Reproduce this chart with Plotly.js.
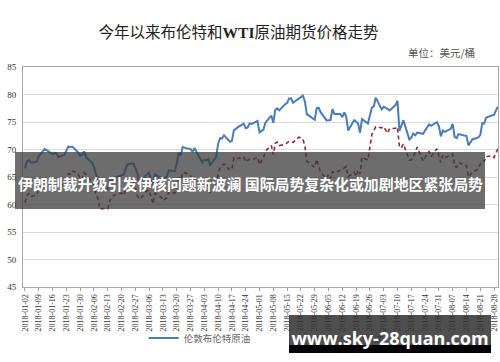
<!DOCTYPE html>
<html><head><meta charset="utf-8">
<script src="https://cdn.plot.ly/plotly-3.0.1.min.js"></script>
<style>
html,body{margin:0;padding:0;background:#fff;}
#wrap{position:relative;width:500px;height:362px;overflow:hidden;}
#chart{width:500px;height:362px;}
#wm{position:absolute;left:289px;top:315px;width:202px;height:38px;
background:linear-gradient(to bottom, rgba(50,50,50,0.86) 0px, rgba(50,50,50,0.86) 30px, #000 30px, #000 38px);}
#wm span{position:absolute;left:0;width:202px;top:14px;line-height:18px;text-align:center;
color:#fff;font-family:"Open Sans",sans-serif;font-weight:700;font-size:18px;white-space:nowrap;}
</style>
</head><body>
<div id="wrap"><div id="chart"></div><div id="wm"><span>www.sky-28quan.com</span></div></div>
<script>
const dates = [
'2018-01-02','2018-01-03','2018-01-04','2018-01-05','2018-01-08','2018-01-09','2018-01-10','2018-01-11','2018-01-12','2018-01-16','2018-01-17','2018-01-18','2018-01-19','2018-01-22','2018-01-23','2018-01-24','2018-01-25','2018-01-26','2018-01-29','2018-01-30','2018-01-31',
'2018-02-01','2018-02-02','2018-02-05','2018-02-06','2018-02-07','2018-02-08','2018-02-09','2018-02-12','2018-02-13','2018-02-14','2018-02-15','2018-02-16','2018-02-20','2018-02-21','2018-02-22','2018-02-23','2018-02-26','2018-02-27','2018-02-28',
'2018-03-01','2018-03-02','2018-03-05','2018-03-06','2018-03-07','2018-03-08','2018-03-09','2018-03-12','2018-03-13','2018-03-14','2018-03-15','2018-03-16','2018-03-19','2018-03-20','2018-03-21','2018-03-22','2018-03-23','2018-03-26','2018-03-27','2018-03-28','2018-03-29',
'2018-04-02','2018-04-03','2018-04-04','2018-04-05','2018-04-06','2018-04-09','2018-04-10','2018-04-11','2018-04-12','2018-04-13','2018-04-16','2018-04-17','2018-04-18','2018-04-19','2018-04-20','2018-04-23','2018-04-24','2018-04-25','2018-04-26','2018-04-27','2018-04-30',
'2018-05-01','2018-05-02','2018-05-03','2018-05-04','2018-05-07','2018-05-08','2018-05-09','2018-05-10','2018-05-11','2018-05-14','2018-05-15','2018-05-16','2018-05-17','2018-05-18','2018-05-21','2018-05-22','2018-05-23','2018-05-24','2018-05-25','2018-05-29','2018-05-30','2018-05-31',
'2018-06-01','2018-06-04','2018-06-05','2018-06-06','2018-06-07','2018-06-08','2018-06-11','2018-06-12','2018-06-13','2018-06-14','2018-06-15','2018-06-18','2018-06-19','2018-06-20','2018-06-21','2018-06-22','2018-06-25','2018-06-26','2018-06-27','2018-06-28','2018-06-29',
'2018-07-02','2018-07-03','2018-07-05','2018-07-06','2018-07-09','2018-07-10','2018-07-11','2018-07-12','2018-07-13','2018-07-16','2018-07-17','2018-07-18','2018-07-19','2018-07-20','2018-07-23','2018-07-24','2018-07-25','2018-07-26','2018-07-27','2018-07-30','2018-07-31',
'2018-08-01','2018-08-02','2018-08-03','2018-08-06','2018-08-07','2018-08-08','2018-08-09','2018-08-10','2018-08-13','2018-08-14','2018-08-15','2018-08-16','2018-08-17','2018-08-20','2018-08-21','2018-08-22','2018-08-23','2018-08-24','2018-08-27','2018-08-28','2018-08-29','2018-08-30'
];
const brent = [
66.57,67.84,68.07,67.62,67.78,68.82,69.20,69.60,70.10,69.15,69.38,69.31,68.61,69.03,69.96,70.53,70.42,70.52,69.46,68.89,69.05,
69.65,68.58,67.62,66.86,65.51,64.81,62.79,62.59,62.72,64.36,64.33,64.84,65.25,65.42,66.39,67.31,67.50,66.63,65.78,
63.83,64.37,65.54,65.79,64.34,63.61,65.49,64.95,64.64,64.89,65.12,66.21,66.05,67.42,69.47,68.91,70.45,70.12,70.11,69.53,70.27,
67.64,68.12,68.02,68.33,67.11,68.65,71.04,72.06,72.02,72.58,71.42,71.58,73.48,73.78,74.06,74.71,73.86,74.00,74.74,74.64,75.17,
73.13,73.36,73.62,74.87,76.17,74.85,77.21,77.47,77.12,78.23,78.43,79.28,79.30,78.51,79.22,79.57,79.80,78.79,76.44,75.39,77.50,77.59,
76.79,75.29,75.38,75.36,77.32,76.46,76.46,75.88,76.74,75.94,73.44,75.34,75.08,74.74,73.05,75.55,74.73,76.31,77.62,77.85,79.44,
77.30,77.76,77.39,77.11,78.07,78.86,73.40,74.45,75.33,71.84,72.16,72.90,72.58,73.07,72.86,73.44,73.93,74.54,74.29,74.97,74.25,
72.39,73.45,73.21,73.75,74.65,72.28,72.07,72.81,72.61,72.46,70.76,71.43,71.83,72.21,72.63,74.78,74.73,75.82,76.21,76.31,77.14,77.77
];
const wti = [
60.37,61.63,62.01,61.44,61.73,62.96,63.57,63.80,64.30,63.73,63.97,63.95,63.37,63.57,64.47,65.61,65.51,66.14,65.56,64.50,64.73,
65.80,65.45,64.15,63.39,61.79,61.15,59.20,59.29,59.19,60.60,61.34,61.68,62.10,61.68,62.77,63.55,63.91,63.01,61.64,
60.99,61.25,62.57,62.60,61.15,60.12,62.04,61.36,60.71,60.96,61.19,62.34,62.06,63.40,65.17,64.30,65.88,65.55,65.25,64.38,64.94,
63.01,63.51,63.37,63.54,62.06,63.42,65.51,66.82,67.07,67.39,66.22,66.52,68.47,68.29,68.38,68.64,67.70,68.05,68.19,68.10,68.57,
67.25,67.93,68.43,69.72,70.73,69.06,71.14,71.36,70.70,70.96,71.31,71.49,71.49,71.28,72.24,72.13,71.84,70.71,67.88,66.73,68.21,67.04,
65.81,64.75,65.52,64.73,65.95,65.74,66.10,66.36,66.64,66.89,65.06,65.85,65.07,66.22,65.54,68.58,68.08,70.53,72.76,73.45,74.15,
73.94,74.14,72.94,73.80,73.85,74.11,70.38,70.33,71.01,68.06,68.08,68.76,69.46,70.46,67.89,68.52,69.30,69.61,68.69,70.13,68.76,
67.66,68.96,68.49,69.01,69.17,66.94,66.81,67.63,67.20,67.04,65.01,65.46,65.91,66.43,67.35,67.86,67.83,68.72,68.87,68.53,69.51,70.25
];
const tickLabels = ['2018-01-02','2018-01-09','2018-01-16','2018-01-23','2018-01-30','2018-02-06','2018-02-13','2018-02-20','2018-02-27',
'2018-03-06','2018-03-13','2018-03-20','2018-03-27','2018-04-03','2018-04-10','2018-04-17','2018-04-24','2018-05-01','2018-05-08',
'2018-05-15','2018-05-22','2018-05-29','2018-06-05','2018-06-12','2018-06-19','2018-06-26','2018-07-03','2018-07-10','2018-07-17',
'2018-07-24','2018-07-31','2018-08-07','2018-08-14','2018-08-21','2018-08-28'];
const seriesNames = ['伦敦布伦特原油','WTI原油'];
const titleText = '今年以来布伦特和<b>WTI</b>原油期货价格走势';
const unitText = '单位：美元/桶';
const bannerText = '伊朗制裁升级引发伊核问题新波澜 国际局势复杂化或加剧地区紧张局势';

const cjk = 'Noto Sans CJK SC';
const traces = [
 {x: dates, y: brent, type:'scatter', mode:'lines', name: seriesNames[0],
  line:{color:'#4a7cb8', width:2}},
 {x: dates, y: wti, type:'scatter', mode:'lines', name: seriesNames[1],
  line:{color:'#8e2b36', width:1.6, dash:'4px,3px'}}
];
const layout = {
 width:500, height:362,
 margin:{l:23, r:2, t:67, b:75, pad:0},
 paper_bgcolor:'#fff', plot_bgcolor:'#fff',
 showlegend:true,
 title:{text:titleText, x:0.477, xref:'container', xanchor:'center', y:0.909, yref:'container', yanchor:'middle',
   font:{family:'"Liberation Serif", "'+cjk+'"', size:15.5, color:'#222'}},
 xaxis:{type:'date', range:['2018-01-01','2018-08-30'], tickmode:'array', tickvals:tickLabels, ticktext:tickLabels,
   tickangle:-90, tickfont:{family:'"Liberation Serif", serif', size:8, color:'#333'},
   ticks:'outside', ticklen:3, tickcolor:'#a0a0a0', showgrid:false, showline:true, linecolor:'#a8a8a8', linewidth:1,
   mirror:true, zeroline:false, fixedrange:true},
 yaxis:{range:[45,85], dtick:5, tick0:45, tickfont:{family:'"Liberation Serif", serif', size:9, color:'#333'},
   showgrid:true, gridcolor:'#d9d9e2', gridwidth:1, showline:true, linecolor:'#a8a8a8', linewidth:1, mirror:true,
   zeroline:false, ticks:'', ticklabelstandoff:4, fixedrange:true},
 legend:{orientation:'h', x:0.254, xanchor:'left', y:-0.232, yanchor:'middle', bgcolor:'rgba(0,0,0,0)',
   font:{family:cjk, size:9.5, color:'#666'}, entrywidth:119, entrywidthmode:'pixels', itemwidth:30},
 shapes:[
  {type:'rect', xref:'paper', yref:'paper', x0:-0.0168, x1:0.9726, y0:0.3545, y1:0.6136,
   fillcolor:'rgba(60,60,60,0.75)', line:{width:0}, layer:'above'}
 ],
 annotations:[
  {text:unitText, xref:'paper', yref:'paper', x:0.956, xanchor:'right', y:1.064, yanchor:'middle', showarrow:false,
   font:{family:cjk, size:10.5, color:'#555'}},
  {text:bannerText, xref:'paper', yref:'paper', x:0.478, xanchor:'center', y:0.4727, yanchor:'middle', showarrow:false,
   font:{family:cjk, size:14.9, color:'#fff', weight:700}}
 ]
};
Plotly.newPlot('chart', traces, layout, {staticPlot:true, displayModeBar:false});
</script>
</body></html>
